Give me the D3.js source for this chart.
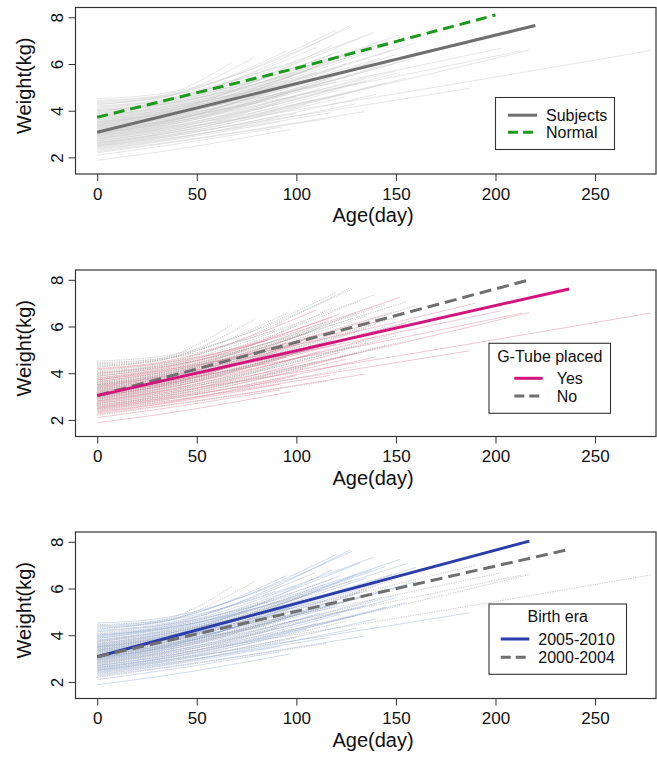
<!DOCTYPE html>
<html>
<head>
<meta charset="utf-8">
<script src="https://cdn.jsdelivr.net/npm/d3@7"></script>
<style>
  body { margin: 0; background: #fff; }
  text { font-family: "Liberation Sans", Arial, Helvetica, sans-serif; fill: #111; }
</style>
</head>
<body>
<svg id="chart" width="657" height="767"></svg>
<script>
const ageTicks = [0, 50, 100, 150, 200, 250];
const weightTicks = [2, 4, 6, 8];

// one row per subject:
// [weight at birth, weight at 30 days, last age, last weight, g-tube (1 = yes), era (1 = 2005-2010)]
const subjects = [
  [4.52, 4.70, 128, 7.60, 0, 1], [4.45, 4.62, 68, 6.10, 0, 0], [4.40, 4.60, 120, 7.45, 0, 1],
  [4.35, 4.55, 95, 6.55, 0, 1], [4.30, 4.52, 79, 6.30, 0, 0], [4.25, 4.55, 139, 7.35, 0, 1],
  [4.20, 4.45, 110, 6.70, 1, 1], [4.15, 4.40, 152, 7.25, 1, 1], [4.10, 4.40, 90, 5.90, 0, 0],
  [4.05, 4.35, 127, 7.65, 0, 1], [4.00, 4.30, 118, 6.40, 1, 0], [4.00, 4.25, 145, 6.95, 0, 1],
  [3.95, 4.30, 100, 6.10, 0, 1], [3.92, 4.25, 132, 7.10, 0, 1], [3.88, 4.20, 85, 5.40, 1, 0],
  [3.85, 4.22, 155, 7.05, 0, 1], [3.80, 4.15, 122, 6.55, 1, 1], [3.78, 4.10, 108, 5.80, 0, 0],
  [3.75, 4.12, 138, 6.80, 0, 1], [3.72, 4.05, 75, 5.00, 1, 1], [3.70, 4.08, 190, 7.00, 1, 0],
  [3.66, 4.00, 115, 6.20, 0, 0], [3.63, 4.00, 148, 6.60, 1, 1], [3.60, 3.98, 98, 5.50, 0, 1],
  [3.58, 3.95, 128, 6.35, 0, 0], [3.55, 3.92, 160, 6.90, 0, 1], [3.52, 3.90, 105, 5.70, 1, 0],
  [3.50, 3.88, 135, 6.45, 0, 1], [3.50, 3.85, 88, 5.10, 0, 0], [3.48, 3.85, 118, 6.80, 0, 1],
  [3.45, 3.82, 142, 6.25, 1, 1], [3.42, 3.80, 112, 5.95, 0, 0], [3.40, 3.80, 203, 6.68, 1, 0],
  [3.38, 3.75, 125, 6.00, 0, 1], [3.36, 3.75, 95, 5.30, 1, 1], [3.34, 3.72, 150, 6.40, 0, 0],
  [3.32, 3.70, 130, 6.60, 0, 1], [3.30, 3.68, 108, 5.60, 0, 0], [3.28, 3.65, 155, 6.15, 1, 1],
  [3.25, 3.65, 120, 5.80, 0, 1], [3.23, 3.62, 82, 4.80, 1, 0], [3.20, 3.60, 140, 6.10, 0, 0],
  [3.18, 3.58, 213, 6.57, 1, 0], [3.16, 3.55, 115, 5.50, 0, 1], [3.14, 3.52, 100, 5.20, 1, 1],
  [3.12, 3.50, 135, 5.90, 0, 0], [3.10, 3.50, 160, 6.30, 0, 1], [3.08, 3.48, 125, 5.45, 1, 0],
  [3.06, 3.45, 90, 4.90, 0, 1], [3.05, 3.45, 145, 6.00, 0, 0], [3.03, 3.42, 110, 5.65, 1, 1],
  [3.02, 3.40, 150, 5.70, 0, 0], [3.00, 3.40, 120, 5.25, 1, 1], [2.98, 3.38, 132, 5.85, 0, 1],
  [2.96, 3.35, 105, 5.00, 0, 0], [2.94, 3.32, 140, 5.55, 1, 1], [2.92, 3.30, 118, 5.40, 0, 1],
  [2.90, 3.28, 95, 4.70, 1, 0], [2.88, 3.25, 128, 5.15, 0, 0], [2.85, 3.22, 150, 5.60, 0, 1],
  [2.82, 3.20, 112, 4.95, 1, 1], [2.80, 3.18, 217, 6.60, 1, 0], [2.78, 3.15, 135, 5.30, 0, 1],
  [2.75, 3.12, 278, 6.58, 1, 0], [2.72, 3.10, 100, 4.60, 0, 0], [2.70, 3.05, 122, 4.90, 1, 1],
  [2.68, 3.05, 145, 5.20, 0, 1], [2.65, 3.00, 90, 4.30, 0, 0], [2.62, 2.98, 130, 4.85, 1, 1],
  [2.60, 2.95, 110, 4.50, 0, 0], [2.58, 2.95, 155, 5.40, 0, 1], [2.55, 2.90, 125, 4.60, 1, 0],
  [2.52, 2.88, 187, 4.96, 1, 1], [2.50, 2.85, 105, 4.25, 0, 1], [2.48, 2.82, 140, 4.70, 1, 1],
  [2.45, 2.80, 92, 3.80, 0, 0], [2.42, 2.75, 117, 3.91, 1, 1], [2.38, 2.72, 130, 4.30, 0, 1],
  [2.35, 2.68, 100, 3.90, 1, 0], [2.30, 2.65, 92, 3.53, 1, 1], [2.25, 2.58, 134, 3.96, 1, 1],
  [2.20, 2.55, 115, 3.65, 0, 0], [2.10, 2.45, 92, 3.29, 1, 1], [1.88, 2.22, 97, 3.20, 1, 1],
];

// group mean curves, [age, weight]
const subjectsMean = [[0, 3.08], [220, 7.65]];
const normalMean = [[0, 3.72], [100, 5.82], [200, 8.1]];
const gtubeYes = [[0, 3.04], [237, 7.61]];
const gtubeNo = [[0, 3.04], [217, 8.0]];
const era0510 = [[0, 3.08], [217, 8.03]];
const era0004 = [[0, 3.08], [236, 7.66]];

const svg = d3.select("#chart");
const boxLeft = 75.5, boxRight = 656, boxHeight = 166.5;

const xScale = d3.scaleLinear().domain([-10.9, 280.6]).range([boxLeft, boxRight]);

const lineStyles = {
  grey: { color: "#6f6f6f", dash: null },
  green: { color: "#1c9a1c", dash: "11,6" },
  greyDash: { color: "#6f6f6f", dash: "12,6" },
  magenta: { color: "#d5137d", dash: null },
  blue: { color: "#2b3cab", dash: null },
};

const panels = [
  {
    top: 7.5,
    subjectStyle: () => ({ color: "#c6c6c6", dash: null, opacity: 0.6 }),
    means: [
      { data: subjectsMean, style: "grey", label: "Subjects" },
      { data: normalMean, style: "green", label: "Normal" },
    ],
    drawOrder: [0, 1],
    legend: { x0: 495.5, x1: 614.5, y0: 90, y1: 142, title: null, rows: [107.7, 124.7], lx0: 508, lx1: 537, tx: 546 },
  },
  {
    top: 270,
    subjectStyle: (s) => s[4] ? { color: "#d7607f", dash: null, opacity: 0.5 } : { color: "#9a9a9a", dash: "1.3,1.1", opacity: 0.7 },
    means: [
      { data: gtubeYes, style: "magenta", label: "Yes" },
      { data: gtubeNo, style: "greyDash", label: "No" },
    ],
    drawOrder: [1, 0],
    legend: { x0: 489, x1: 610.5, y0: 73.3, y1: 143.3, title: "G-Tube placed", titleY: 86, rows: [108.3, 126], lx0: 514.3, lx1: 542.7, tx: 556.7 },
  },
  {
    top: 532,
    subjectStyle: (s) => s[5] ? { color: "#7f9ccb", dash: null, opacity: 0.5 } : { color: "#9a9a9a", dash: "1.3,1.1", opacity: 0.7 },
    means: [
      { data: era0510, style: "blue", label: "2005-2010" },
      { data: era0004, style: "greyDash", label: "2000-2004" },
    ],
    drawOrder: [0, 1],
    legend: { x0: 489, x1: 626.5, y0: 72, y1: 142.3, title: "Birth era", titleY: 84.7, rows: [107, 125.3], lx0: 500.7, lx1: 529.3, tx: 538.3 },
  },
];

function drawPanel(p) {
  const yScale = d3.scaleLinear().domain([1.29, 8.42]).range([p.top + boxHeight, p.top]);
  const g = svg.append("g");

  const line = d3.line()
    .x((d) => xScale(d[0]))
    .y((d) => yScale(d[1]));
  const curve = d3.line()
    .x((d) => xScale(d[0]))
    .y((d) => yScale(d[1]))
    .curve(d3.curveMonotoneX);

  // individual subjects
  g.selectAll(".subject")
    .data(subjects)
    .join("path")
    .attr("class", "subject")
    .attr("d", (s) => curve([[0, s[0]], [30, s[1]], [s[2], s[3]]]))
    .attr("fill", "none")
    .attr("stroke", (s) => p.subjectStyle(s).color)
    .attr("stroke-opacity", (s) => p.subjectStyle(s).opacity)
    .attr("stroke-dasharray", (s) => p.subjectStyle(s).dash)
    .attr("stroke-width", 0.7);

  // group means
  p.drawOrder.forEach((i) => {
    const m = p.means[i];
    const st = lineStyles[m.style];
    g.append("path")
      .attr("d", line(m.data))
      .attr("fill", "none")
      .attr("stroke", st.color)
      .attr("stroke-width", 3)
      .attr("stroke-dasharray", st.dash);
  });

  // box
  g.append("rect")
    .attr("x", boxLeft).attr("y", p.top)
    .attr("width", boxRight - boxLeft).attr("height", boxHeight)
    .attr("fill", "none").attr("stroke", "#333").attr("stroke-width", 1.2);

  // axes
  const xAxis = g.append("g")
    .attr("transform", `translate(0,${p.top + boxHeight})`)
    .call(d3.axisBottom(xScale).tickValues(ageTicks).tickSize(7).tickSizeOuter(0).tickPadding(6.5));
  xAxis.select(".domain").remove();
  xAxis.selectAll(".tick line").attr("stroke", "#333");
  xAxis.selectAll("text").style("font-size", "17px").attr("fill", "#111");

  const yAxis = g.append("g")
    .attr("transform", `translate(${boxLeft},0)`)
    .call(d3.axisLeft(yScale).tickValues(weightTicks).tickSize(7).tickSizeOuter(0));
  yAxis.select(".domain").remove();
  yAxis.selectAll(".tick line").attr("stroke", "#333");
  yAxis.selectAll("text")
    .style("font-size", "17px")
    .attr("fill", "#111")
    .attr("transform", "rotate(-90)")
    .attr("x", 0)
    .attr("y", -12.5)
    .attr("dy", 0)
    .attr("text-anchor", "middle");

  // axis titles
  g.append("text")
    .attr("x", 373)
    .attr("y", p.top + boxHeight + 48)
    .attr("text-anchor", "middle")
    .style("font-size", "20px")
    .text("Age(day)");
  g.append("text")
    .attr("transform", `translate(31,${p.top + boxHeight / 2 - 5}) rotate(-90)`)
    .attr("text-anchor", "middle")
    .style("font-size", "20px")
    .text("Weight(kg)");

  // legend
  const lg = p.legend;
  g.append("rect")
    .attr("x", lg.x0).attr("y", p.top + lg.y0)
    .attr("width", lg.x1 - lg.x0).attr("height", lg.y1 - lg.y0)
    .attr("fill", "#fff").attr("stroke", "#333").attr("stroke-width", 1.1);
  if (lg.title) {
    g.append("text")
      .attr("x", (lg.x0 + lg.x1) / 2)
      .attr("y", p.top + lg.titleY)
      .attr("dy", "0.35em")
      .attr("text-anchor", "middle")
      .style("font-size", "16px")
      .text(lg.title);
  }
  p.means.forEach((m, i) => {
    const st = lineStyles[m.style];
    const yy = p.top + lg.rows[i];
    g.append("line")
      .attr("x1", lg.lx0).attr("x2", lg.lx1)
      .attr("y1", yy).attr("y2", yy)
      .attr("stroke", st.color)
      .attr("stroke-width", 3)
      .attr("stroke-dasharray", st.dash ? "10,5" : null);
    g.append("text")
      .attr("x", lg.tx)
      .attr("y", yy)
      .attr("dy", "0.35em")
      .style("font-size", "16px")
      .text(m.label);
  });
}

panels.forEach(drawPanel);
</script>
</body>
</html>
